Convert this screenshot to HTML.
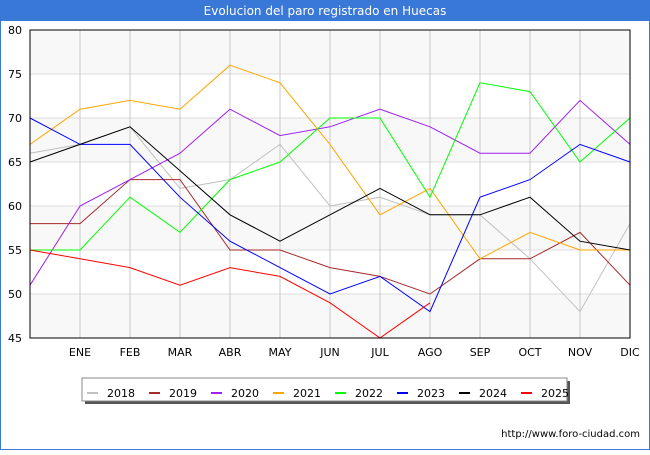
<!DOCTYPE html>
<html><head><meta charset="utf-8"><style>
body{margin:0;width:650px;height:450px;overflow:hidden;background:#fff;font-family:"Liberation Sans","DejaVu Sans",sans-serif}
</style></head><body>
<svg id="chart" width="650" height="450" xmlns="http://www.w3.org/2000/svg" font-family="DejaVu Sans, Liberation Sans, sans-serif">
<rect x="0.5" y="0.5" width="649" height="449" fill="#fff" stroke="#3a78d8" stroke-width="1"/>
<rect x="0" y="0" width="650" height="21" fill="#3a78d8"/>
<text x="325" y="15" text-anchor="middle" fill="#fff" font-size="12">Evolucion del paro registrado en Huecas</text>
<g id="plot"></g>
<g>
<rect x="85" y="381" width="485" height="23" fill="#555"/>
<rect x="82" y="378" width="485" height="23" fill="#fff" stroke="#888"/>
<g id="legend-items"></g>
</g>
<text x="640" y="437" text-anchor="end" font-size="10" fill="#000">http://www.foro-ciudad.com</text>
</svg>
<script>
const months = ["","ENE","FEB","MAR","ABR","MAY","JUN","JUL","AGO","SEP","OCT","NOV","DIC"];
const yTicks = [45,50,55,60,65,70,75,80];
const years = ["2018","2019","2020","2021","2022","2023","2024","2025"];
const colors = ["#c0c0c0","#a52a2a","#a020f0","#ffa500","#00ff00","#0000ff","#000000","#ff0000"];
const s2018 = [66,67,69,62,63,67,60,61,59,59,54,48,58];
const s2019 = [58,58,63,63,55,55,53,52,50,54,54,57,51];
const s2020 = [51,60,63,66,71,68,69,71,69,66,66,72,67];
const s2021 = [67,71,72,71,76,74,67,59,62,54,57,55,55];
const s2022 = [55,55,61,57,63,65,70,70,61,74,73,65,70];
const s2023 = [70,67,67,61,56,53,50,52,48,61,63,67,65];
const s2024 = [65,67,69,64,59,56,59,62,59,59,61,56,55];
const s2025 = [55,54,53,51,53,52,49,45,49];
const series = [s2018,s2019,s2020,s2021,s2022,s2023,s2024,s2025];

const NS="http://www.w3.org/2000/svg";
const L=30,R=630,T=30,B=338,yMin=45,yMax=80;
const x=i=>L+i*(R-L)/(months.length-1);
const y=v=>B-(v-yMin)*(B-T)/(yMax-yMin);
const plot=document.getElementById('plot');
function mk(tag,attrs,parent){const e=document.createElementNS(NS,tag);for(const k in attrs)e.setAttribute(k,attrs[k]);(parent||plot).appendChild(e);return e;}
// bands
for(let i=0;i<yTicks.length-1;i++){
  if((yTicks.length-2-i)%2===0){
    const b=mk('rect',{x:L,y:y(yTicks[i+1]),width:R-L,height:y(yTicks[i])-y(yTicks[i+1]),fill:'#f8f8f8'});
    
    
  }
}
yTicks.forEach(v=>{
  const g=mk('line',{x1:L,x2:R,y1:y(v),y2:y(v),stroke:'#dddddd'});
  
  
  const t=mk('text',{x:L-8,y:y(v)+4,'text-anchor':'end','font-size':'11',fill:'#000'});
  t.textContent=v;
  
  
});
months.forEach((m,i)=>{
  const g=mk('line',{x1:x(i),x2:x(i),y1:T,y2:B,stroke:'#c8c8c8'});
  
  
  if(m){
    const t=mk('text',{x:x(i),y:B+18,'text-anchor':'middle','font-size':'11',fill:'#000'});
    t.textContent=m;
    
    
  }
});
series.forEach((s,k)=>{
  const p=mk('polyline',{points:s.map((v,i)=>x(i)+','+y(v)).join(' '),fill:'none',stroke:colors[k],'stroke-width':'1'});
  
  
});
const ax=mk('rect',{x:L,y:T,width:R-L,height:B-T,fill:'none',stroke:'#000','stroke-width':'1'});


const lg=document.getElementById('legend-items');
years.forEach((yr,k)=>{
  const lx=87+k*62;
  const sw=mk('line',{x1:lx,x2:lx+11,y1:393,y2:393,stroke:colors[k],'stroke-width':'2'},lg);
  
  
  const t=mk('text',{x:lx+20,y:397,'font-size':'11',fill:'#000'},lg);
  t.textContent=yr;
  
  
});
</script>
</body></html>
